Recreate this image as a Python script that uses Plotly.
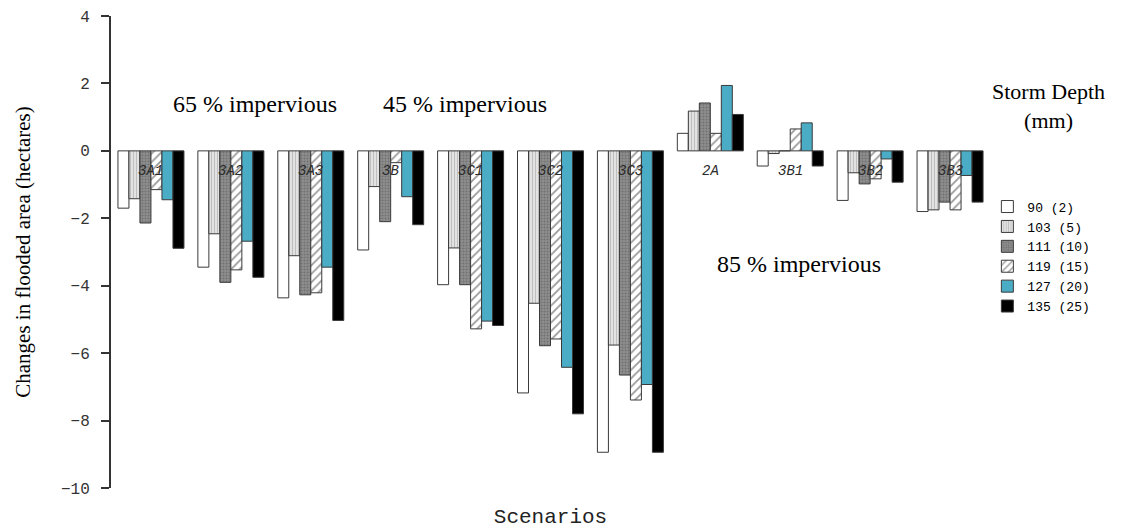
import plotly.graph_objects as go

# Scenario names and storm-depth series (change in flooded area, hectares)
scenarios = ["3A1", "3A2", "3A3", "3B", "3C1", "3C2", "3C3", "2A", "3B1", "3B2", "3B3"]
series_names = ["90 (2)", "103 (5)", "111 (10)", "119 (15)", "127 (20)", "135 (25)"]

depth_90 = [-1.70, -3.45, -4.36, -2.94, -3.97, -7.18, -8.94, 0.52, -0.45, -1.47, -1.80]
depth_103 = [-1.42, -2.46, -3.11, -1.06, -2.88, -4.52, -5.76, 1.18, -0.08, -0.65, -1.75]
depth_111 = [-2.14, -3.90, -4.27, -2.10, -3.97, -5.78, -6.65, 1.42, 0.00, -0.98, -1.52]
depth_119 = [-1.15, -3.53, -4.21, -0.35, -5.28, -5.58, -7.39, 0.52, 0.65, -0.83, -1.75]
depth_127 = [-1.45, -2.68, -3.45, -1.36, -5.05, -6.42, -6.93, 1.94, 0.83, -0.24, -0.73]
depth_135 = [-2.89, -3.75, -5.03, -2.19, -5.18, -7.80, -8.94, 1.08, -0.45, -0.93, -1.52]

y_ticks = [4, 2, 0, -2, -4, -6, -8, -10]

series_values = [depth_90, depth_103, depth_111, depth_119, depth_127, depth_135]

# Fill style for each storm depth
styles = [
    dict(color="white", pattern=dict(shape="")),
    dict(color="#e2e2e2", pattern=dict(shape="|", fgcolor="#9a9a9a", size=3, solidity=0.35)),
    dict(color="#8e8e8e", pattern=dict(shape=".", fgcolor="#555555", size=3, solidity=0.4)),
    dict(color="white", pattern=dict(shape="/", fgcolor="#333333", size=6, solidity=0.3)),
    dict(color="#4BACC6", pattern=dict(shape="")),
    dict(color="black", pattern=dict(shape="")),
]

fig = go.Figure()
for name, vals, st in zip(series_names, series_values, styles):
    fig.add_trace(go.Bar(
        x=scenarios, y=vals, name=name,
        marker=dict(color=st["color"], pattern=st["pattern"],
                    line=dict(color="#3a3a3a", width=1)),
    ))

# Scenario labels sit just under the zero level
for s in scenarios:
    fig.add_annotation(x=s, y=0, xref="x", yref="y", text=f"<i>{s}</i>",
                       showarrow=False, yanchor="top", yshift=-10,
                       font=dict(family="Liberation Mono", size=14, color="#2a2a2a"))

serif = "Liberation Serif"
notes = [
    (0.164, 0.814, "65 % impervious", 24),
    (0.403, 0.814, "45 % impervious", 24),
    (0.783, 0.475, "85 % impervious", 24),
    (1.066, 0.809, "Storm Depth<br>(mm)", 22),
]
for nx, ny, txt, sz in notes:
    fig.add_annotation(x=nx, y=ny, xref="paper", yref="paper", text=txt,
                       showarrow=False, xanchor="center", yanchor="middle",
                       font=dict(family=serif, size=sz, color="black"))

fig.update_layout(
    width=1127, height=529,
    margin=dict(l=111, r=137, t=16, b=41),
    paper_bgcolor="white", plot_bgcolor="white",
    barmode="group", bargap=0.174, bargroupgap=0,
    showlegend=True,
    legend=dict(x=0.997, y=0.628, xanchor="left", yanchor="top",
                font=dict(family="Liberation Mono", size=13, color="black"),
                tracegroupgap=0, itemwidth=30, bgcolor="rgba(0,0,0,0)"),
    xaxis=dict(showticklabels=False, showline=False, ticks="", showgrid=False,
               zeroline=False, automargin=False,
               title=dict(text="Scenarios", standoff=26,
                          font=dict(family="Liberation Mono", size=21, color="#222"))),
    yaxis=dict(range=[-10, 4], tickvals=y_ticks, showline=True, linecolor="#333",
               linewidth=2, ticks="outside", ticklen=8, tickwidth=2, tickcolor="#333",
               showgrid=False, zeroline=False, ticklabelstandoff=8, automargin=False,
               tickfont=dict(family="Liberation Mono", size=16, color="#333"),
               title=dict(text="Changes in flooded area (hectares)", standoff=25,
                          font=dict(family=serif, size=21, color="black"))),
)

fig.write_html("out.html")
